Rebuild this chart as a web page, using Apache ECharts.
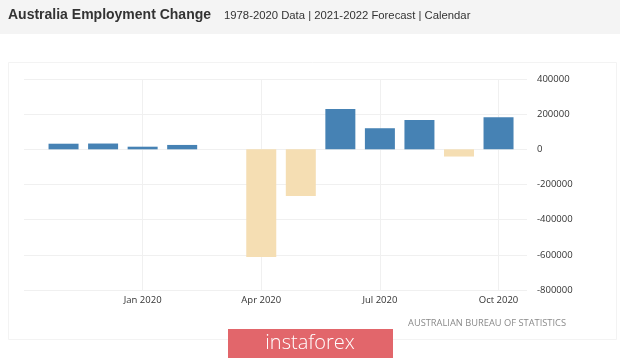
<!DOCTYPE html>
<html><head><meta charset="utf-8">
<script src="https://cdn.jsdelivr.net/npm/echarts@6/dist/echarts.min.js"></script>
<style>html,body{margin:0;padding:0;background:#fff}#c{width:620px;height:358px}</style>
</head><body><div id="c"></div>
<script>
const months = ['2019-11','2019-12','2020-01','2020-02','2020-03','2020-04','2020-05','2020-06','2020-07','2020-08','2020-09','2020-10'];
const values = [32000, 33000, 15000, 25000, 0, -613000, -266000, 230000, 120000, 167000, -41000, 182000];
const yTicks = [-800000, -600000, -400000, -200000, 0, 200000, 400000];
const xTickLabels = {0:'Jan 2020', 3:'Apr 2020', 6:'Jul 2020', 9:'Oct 2020'};

function monthIndex(s){ const [y,m] = s.split('-').map(Number); return (y-2020)*12 + (m-1); }
const data = months.map((m,i)=>({value:[monthIndex(m), values[i]], itemStyle:{color: values[i] >= 0 ? '#4682b4' : '#f5deb3'}}));

const chart = echarts.init(document.getElementById('c'), null, {renderer:'canvas'});
chart.setOption({
  animation:false,
  backgroundColor:'#ffffff',
  grid:{left:24, right:93, top:79, bottom:68, containLabel:false},
  xAxis:{type:'value', min:-3, max:9.72, interval:3,
    axisLine:{show:false}, axisTick:{show:false},
    splitLine:{show:true, lineStyle:{color:['rgba(0,0,0,0)','#f0f0f0','#f0f0f0','#f0f0f0','#f0f0f0'], width:1}},
    axisLabel:{margin:5, color:'#333', fontFamily:'Open Sans', fontSize:9.5,
      formatter:v=>xTickLabels[Math.round(v)]||''}
  },
  yAxis:{type:'value', position:'right', min:yTicks[0], max:yTicks[yTicks.length-1], interval:200000,
    axisLine:{show:false}, axisTick:{show:false},
    splitLine:{lineStyle:{color:'#f0f0f0'}},
    axisLabel:{margin:10, color:'#333', fontFamily:'Open Sans', fontSize:9.5, align:'left',
      formatter:v=>String(v)}
  },
  series:[{type:'bar', barWidth:30, data:data}],
  graphic:[
    {type:'rect', z:-10, shape:{x:0,y:0,width:620,height:34}, style:{fill:'#f4f4f4'}},
    {type:'rect', z:-10, shape:{x:8.5,y:62.5,width:608,height:277}, style:{fill:'none', stroke:'#f3f3f3', lineWidth:1}},
    {type:'text', left:8, top:8, style:{text:'Australia Employment Change', font:'bold 14px "Liberation Sans", Arial', fill:'#333'}},
    {type:'text', left:224, top:10, style:{text:'1978-2020 Data | 2021-2022 Forecast | Calendar', font:'11.3px "Liberation Sans", Arial', fill:'#333'}},
    {type:'text', left:408, top:319, style:{text:'AUSTRALIAN BUREAU OF STATISTICS', font:'9.3px "Open Sans"', fill:'#8a8a8a'}},
    {type:'rect', shape:{x:228,y:329,width:165,height:29}, style:{fill:'#e2666b'}},
    {type:'text', x:310, y:343, style:{text:'instaforex', font:'300 20px "Open Sans"', fill:'#fff', textAlign:'center', textVerticalAlign:'middle'}}
  ]
});
</script></body></html>
